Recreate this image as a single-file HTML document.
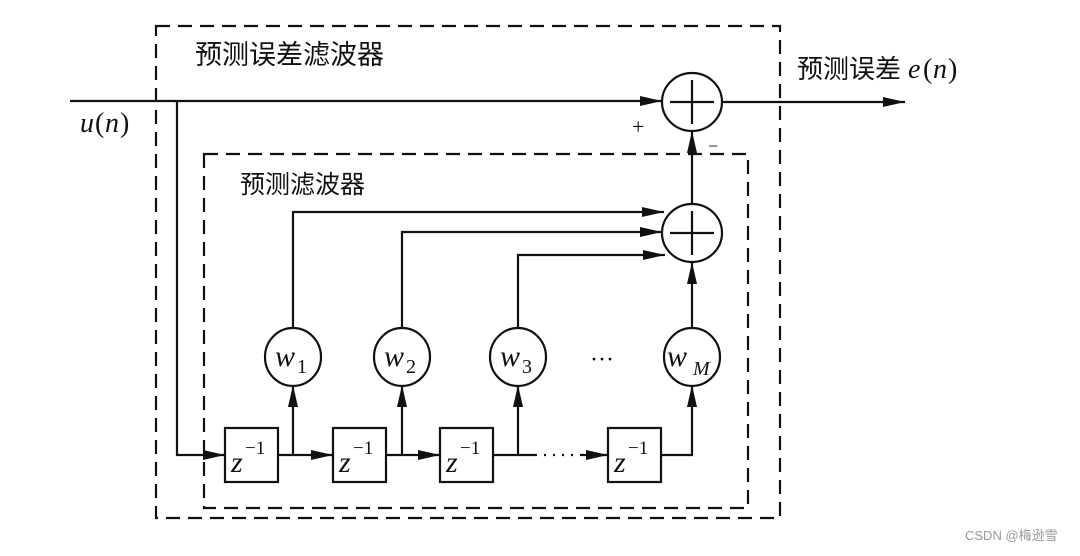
<!DOCTYPE html>
<html><head><meta charset="utf-8"><style>
body{margin:0;background:#fff}
svg text{font-family:"Liberation Serif","Noto Serif CJK SC",serif;fill:#111}
.c{font-family:"Noto Sans CJK SC","WenQuanYi Zen Hei",sans-serif}
</style></head><body>
<svg width="1080" height="551" viewBox="0 0 1080 551" xmlns="http://www.w3.org/2000/svg">
<defs>
<marker id="b" markerWidth="22" markerHeight="10" refX="22" refY="5" orient="auto" markerUnits="userSpaceOnUse"><path d="M0,0 L22,5 L0,10 Z" fill="#111"/></marker></defs>
<g fill="none" stroke="#111" stroke-width="2.2" stroke-dasharray="14,8">
<rect x="156" y="26" width="624" height="492"/>
<rect x="204" y="154" width="544" height="354"/>
</g>
<text x="195" y="64" font-size="27" class="c">预测误差滤波器</text>
<text x="240" y="193" font-size="25" class="c">预测滤波器</text>
<text x="797" y="78" font-size="26" class="c">预测误差</text>
<text x="908" y="78" font-size="28" font-style="italic">e</text><text x="923" y="78" font-size="28">(</text><text x="933" y="78" font-size="28" font-style="italic">n</text><text x="948" y="78" font-size="28">)</text>
<text x="80" y="132" font-size="28" font-style="italic">u</text><text x="95" y="132" font-size="28">(</text><text x="105" y="132" font-size="28" font-style="italic">n</text><text x="120" y="132" font-size="28">)</text>
<text x="632" y="134" font-size="22">+</text>
<text x="708" y="152" font-size="18">−</text>
<g stroke="#111" stroke-width="2.2" fill="none">
<line x1="70" y1="101" x2="662" y2="101" marker-end="url(#b)"/>
<line x1="722" y1="102" x2="905" y2="102" marker-end="url(#b)"/>
<ellipse cx="692" cy="102" rx="30" ry="29" fill="#fff"/>
<path d="M670,102h44M692,80v44"/>
<line x1="692" y1="204" x2="692" y2="131" marker-end="url(#b)"/>
<ellipse cx="692" cy="233" rx="30" ry="29" fill="#fff"/>
<path d="M670,233h44M692,211v44"/>
<path d="M293,330V212H664" marker-end="url(#b)"/>
<path d="M402,330V232H662" marker-end="url(#b)"/>
<path d="M518,330V255H665" marker-end="url(#b)"/>
<line x1="692" y1="329" x2="692" y2="262" marker-end="url(#b)"/>
<path d="M177,101V455H225" marker-end="url(#b)"/>
<line x1="278" y1="455" x2="333" y2="455" marker-end="url(#b)"/>
<line x1="386" y1="455" x2="440" y2="455" marker-end="url(#b)"/>
<line x1="493" y1="455" x2="535" y2="455"/>
<line x1="535" y1="455" x2="580" y2="455" stroke-dasharray="2,7"/>
<line x1="580" y1="455" x2="608" y2="455" marker-end="url(#b)"/>
<path d="M660,455H692V385" marker-end="url(#b)"/>
<line x1="293" y1="455" x2="293" y2="385" marker-end="url(#b)"/>
<line x1="402" y1="455" x2="402" y2="385" marker-end="url(#b)"/>
<line x1="518" y1="455" x2="518" y2="385" marker-end="url(#b)"/>
<g fill="#fff">
<ellipse cx="293" cy="357" rx="28" ry="29"/><ellipse cx="402" cy="357" rx="28" ry="29"/>
<ellipse cx="518" cy="357" rx="28" ry="29"/><ellipse cx="692" cy="357" rx="28" ry="29"/>
<rect x="225" y="428" width="53" height="54"/><rect x="333" y="428" width="53" height="54"/>
<rect x="440" y="428" width="53" height="54"/><rect x="608" y="428" width="53" height="54"/>
</g></g>
<g font-size="30" font-style="italic">
<text x="275" y="366">w</text><text x="384" y="366">w</text><text x="500" y="366">w</text><text x="667" y="366">w</text>
</g>
<g font-size="20"><text x="297" y="373">1</text><text x="406" y="373">2</text><text x="522" y="373">3</text><text x="693" y="375" font-style="italic">M</text></g>
<text x="590" y="367" font-size="24">···</text>
<g font-size="30" font-style="italic"><text x="231" y="472">z</text><text x="339" y="472">z</text><text x="446" y="472">z</text><text x="614" y="472">z</text></g>
<g font-size="19"><text x="245" y="454">−1</text><text x="353" y="454">−1</text><text x="460" y="454">−1</text><text x="628" y="454">−1</text></g>
<text x="965" y="540" font-size="13" style="fill:#999;font-family:'Liberation Sans','Noto Sans CJK SC',sans-serif">CSDN @梅逊雪</text>
</svg>
</body></html>
